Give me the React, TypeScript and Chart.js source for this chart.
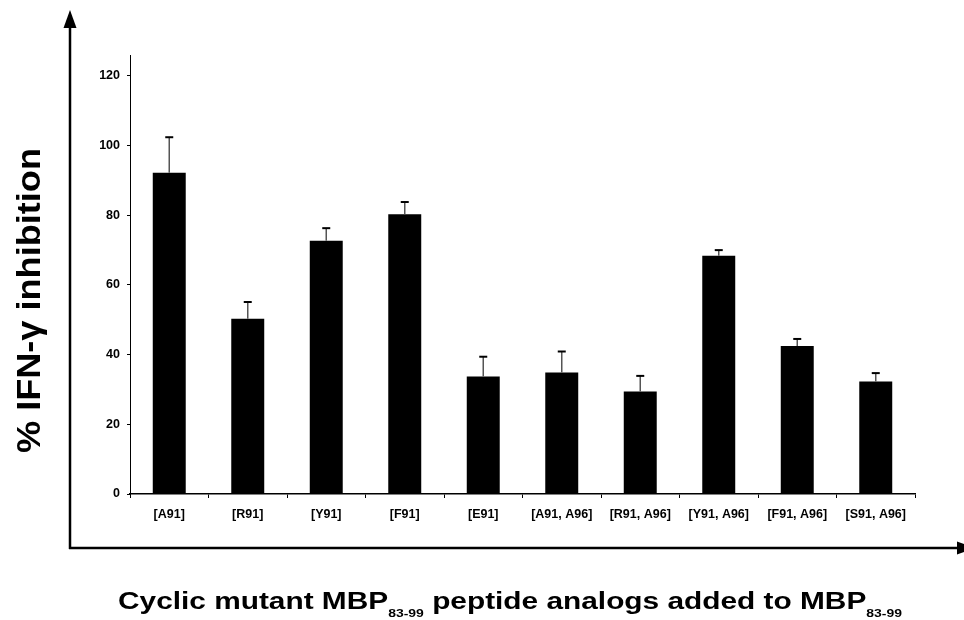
import React, { useEffect, useRef } from "react";
import { Chart, registerables } from "chart.js";

Chart.register(...registerables);

const categories = ["[A91]", "[R91]", "[Y91]", "[F91]", "[E91]", "[A91, A96]", "[R91, A96]", "[Y91, A96]", "[F91, A96]", "[S91, A96]"];
const inhibition = [92.2, 50.3, 72.7, 80.3, 33.7, 34.9, 29.4, 68.4, 42.5, 32.3];
const errors = [10.2, 4.8, 3.6, 3.5, 5.7, 6.0, 4.5, 1.6, 2.0, 2.4];
const yTickValues = [0, 20, 40, 60, 80, 100, 120];
const yTitle = "% IFN-γ inhibition";
const xTitleParts = [
  { text: "Cyclic mutant MBP", sub: false },
  { text: "83-99", sub: true },
  { text: " peptide analogs added to MBP", sub: false },
  { text: "83-99", sub: true },
];

const FONT = "'Liberation Sans', Arial, Helvetica, sans-serif";

const decorPlugin = {
  id: "decor",
  afterDatasetsDraw(chart: any) {
    const ctx = chart.ctx as CanvasRenderingContext2D;
    const yScale = chart.scales.y;
    const meta = chart.getDatasetMeta(0);
    ctx.save();
    meta.data.forEach((el: any, i: number) => {
      const x = el.x;
      const yBar = el.y;
      const yTop = yScale.getPixelForValue(inhibition[i] + errors[i]);
      ctx.strokeStyle = "#555";
      ctx.lineWidth = 1.5;
      ctx.beginPath();
      ctx.moveTo(x, yBar);
      ctx.lineTo(x, yTop);
      ctx.stroke();
      ctx.strokeStyle = "#000";
      ctx.lineWidth = 2;
      ctx.beginPath();
      ctx.moveTo(x - 4, yTop);
      ctx.lineTo(x + 4, yTop);
      ctx.stroke();
    });
    ctx.restore();
  },
  afterDraw(chart: any) {
    const ctx = chart.ctx as CanvasRenderingContext2D;
    const area = chart.chartArea;
    const ax = area.left - 60;
    const ay = area.bottom + 54;
    ctx.save();
    // outer arrows
    ctx.strokeStyle = "#000";
    ctx.fillStyle = "#000";
    ctx.lineWidth = 2.5;
    ctx.beginPath();
    ctx.moveTo(ax, ay + 1);
    ctx.lineTo(ax, 26);
    ctx.stroke();
    ctx.beginPath();
    ctx.moveTo(ax, 10);
    ctx.lineTo(ax - 6.5, 28);
    ctx.lineTo(ax + 6.5, 28);
    ctx.closePath();
    ctx.fill();
    ctx.beginPath();
    ctx.moveTo(ax - 1, ay);
    ctx.lineTo(958, ay);
    ctx.stroke();
    ctx.beginPath();
    ctx.moveTo(975, ay);
    ctx.lineTo(957, ay - 6.5);
    ctx.lineTo(957, ay + 6.5);
    ctx.closePath();
    ctx.fill();

    // y title
    ctx.font = `bold 33px ${FONT}`;
    const yw = ctx.measureText(yTitle).width;
    const targetY = 305;
    ctx.save();
    ctx.translate(40, (area.top + area.bottom) / 2 + 26);
    ctx.rotate(-Math.PI / 2);
    ctx.scale(targetY / yw, 1);
    ctx.textAlign = "center";
    ctx.textBaseline = "alphabetic";
    ctx.fillText(yTitle, 0, 0);
    ctx.restore();

    // x title with subscripts
    const mainFont = `bold 23.5px ${FONT}`;
    const subFont = `bold 11px ${FONT}`;
    let total = 0;
    const widths = xTitleParts.map((p) => {
      ctx.font = p.sub ? subFont : mainFont;
      const w = ctx.measureText(p.text).width;
      total += w;
      return w;
    });
    const startX = 118;
    const targetX = 784;
    const sx = targetX / total;
    ctx.save();
    ctx.translate(startX, 609);
    ctx.scale(sx, 1);
    ctx.textAlign = "left";
    ctx.textBaseline = "alphabetic";
    let cx = 0;
    xTitleParts.forEach((p, i) => {
      ctx.font = p.sub ? subFont : mainFont;
      ctx.fillText(p.text, cx, p.sub ? 8 : 0);
      cx += widths[i];
    });
    ctx.restore();
    ctx.restore();
  },
};

export default function App() {
  const ref = useRef<HTMLCanvasElement | null>(null);
  useEffect(() => {
    if (!ref.current) return;
    const chart = new Chart(ref.current, {
      type: "bar",
      data: {
        labels: categories,
        datasets: [
          {
            data: inhibition,
            backgroundColor: "#000",
            borderColor: "#222",
            borderWidth: 0,
            barPercentage: 0.42,
            categoryPercentage: 1,
          },
        ],
      },
      options: {
        animation: false,
        responsive: false,
        maintainAspectRatio: false,
        layout: { padding: { left: 0, right: 49, top: 55, bottom: 0 } },
        plugins: { legend: { display: false }, tooltip: { enabled: false }, title: { display: false } },
        scales: {
          x: {
            afterFit: (s: any) => {
              s.height = 126;
            },
            grid: { display: true, drawOnChartArea: false, tickLength: 4, color: "#000", offset: true },
            border: { display: true, color: "#000", width: 1.5 },
            ticks: {
              color: "#000",
              font: { family: FONT, size: 12.5, weight: "bold" },
              padding: 9,
              maxRotation: 0,
              minRotation: 0,
              autoSkip: false,
            },
          },
          y: {
            min: 0,
            max: 126,
            afterFit: (s: any) => {
              s.width = 130;
            },
            afterBuildTicks: (s: any) => {
              s.ticks = yTickValues.map((v) => ({ value: v }));
            },
            grid: { display: true, drawOnChartArea: false, tickLength: 3, color: "#000" },
            border: { display: true, color: "#000", width: 1 },
            ticks: {
              stepSize: 20,
              color: "#000",
              font: { family: FONT, size: 12.5, weight: "bold" },
              padding: 7,
            },
          },
        },
      },
      plugins: [decorPlugin],
    });
    return () => chart.destroy();
  }, []);
  return (
    <div style={{ position: "fixed", left: 0, top: 0, width: 964, height: 620, background: "#fff" }}>
      <canvas ref={ref} width={964} height={620} style={{ width: 964, height: 620, display: "block" }} />
    </div>
  );
}
